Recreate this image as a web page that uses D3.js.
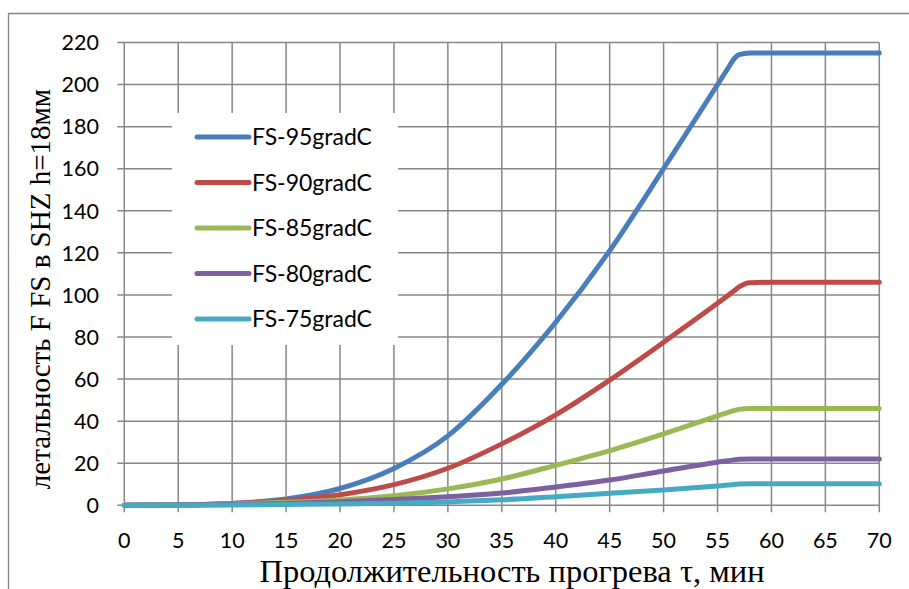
<!DOCTYPE html>
<html>
<head>
<meta charset="utf-8">
<script src="https://cdn.jsdelivr.net/npm/d3@7/dist/d3.min.js"></script>
<style>
  body { margin: 0; background: #fff; }
  svg { display: block; }
</style>
</head>
<body>
<svg id="chart" width="909" height="589"></svg>
<script>
const times = [0, 5, 10, 15, 20, 25, 30, 35, 40, 45, 50, 55, 56, 56.5, 57, 58, 60, 65, 70];
const fs95 = [0, 0.2, 0.9, 3, 8, 17.5, 33, 57.5, 87, 121, 160, 200, 208, 212, 214.2, 215, 215, 215, 215];
const fs90 = [0, 0.2, 0.8, 2.3, 5, 9.8, 17.6, 29.2, 43, 59.5, 77.5, 96, 99.8, 101.8, 103.8, 105.8, 106, 106, 106];
const fs85 = [0, 0.1, 0.6, 1.4, 2.5, 4.5, 7.8, 12.5, 19, 26, 34, 42.5, 44.2, 45, 45.6, 46, 46, 46, 46];
const fs80 = [0, 0.1, 0.4, 0.9, 1.7, 2.8, 4.1, 5.8, 8.7, 12, 16.3, 20.5, 21.2, 21.6, 21.9, 22, 22, 22, 22];
const fs75 = [0, 0.05, 0.2, 0.4, 0.6, 1.0, 1.6, 2.6, 4.1, 5.7, 7.3, 9.2, 9.6, 9.9, 10.1, 10.2, 10.2, 10.2, 10.2];
const seriesNames = ["FS-95gradC", "FS-90gradC", "FS-85gradC", "FS-80gradC", "FS-75gradC"];
const seriesValues = [fs95, fs90, fs85, fs80, fs75];
const seriesColors = ["#4a7ebb", "#be4b48", "#98b954", "#7d60a0", "#46aac5"];
const xTicks = [0, 5, 10, 15, 20, 25, 30, 35, 40, 45, 50, 55, 60, 65, 70];
const yTicks = [0, 20, 40, 60, 80, 100, 120, 140, 160, 180, 200, 220];
const xTitle = "Продолжительность прогрева τ, мин";
const yTitle = "летальность F FS в SHZ h=18мм";

const svg = d3.select("#chart");
const x = d3.scaleLinear().domain([0, 70]).range([124.3, 879.3]);
const y = d3.scaleLinear().domain([0, 220]).range([505.3, 42.5]);
const grid = "#878787";

// outer border
svg.append("path").attr("d", "M8.5,589 L8.5,13.5 L909,13.5")
  .attr("fill", "none").attr("stroke", grid).attr("stroke-width", 1.3);

// grid lines
const g = svg.append("g");
g.selectAll(".hg").data(yTicks).join("line")
  .attr("x1", x(0) - 7).attr("x2", x(70))
  .attr("y1", d => y(d)).attr("y2", d => y(d))
  .attr("stroke", grid).attr("stroke-width", 1.5);
g.selectAll(".vg").data(xTicks).join("line")
  .attr("x1", d => x(d)).attr("x2", d => x(d))
  .attr("y1", y(220)).attr("y2", y(0) + 7)
  .attr("stroke", grid).attr("stroke-width", 1.5);

// tick labels
svg.selectAll(".yl").data(yTicks).join("text")
  .attr("x", 99).attr("y", d => y(d)).attr("dy", "0.36em")
  .attr("text-anchor", "end")
  .style("font-family", "Lato, 'Open Sans', sans-serif").style("font-size", "21.5px")
  .attr("fill", "#000").text(d => d);
svg.selectAll(".xl").data(xTicks).join("text")
  .attr("x", d => x(d)).attr("y", 548)
  .attr("text-anchor", "middle")
  .style("font-family", "Lato, 'Open Sans', sans-serif").style("font-size", "21.5px")
  .attr("fill", "#000").text(d => d);

// legend background
svg.append("rect").attr("x", 172).attr("y", 113).attr("width", 226).attr("height", 232)
  .attr("fill", "#fff");

// lines
const line = d3.line().x((d, i) => x(times[i])).y(d => y(d)).curve(d3.curveMonotoneX);
seriesValues.forEach((vals, k) => {
  svg.append("path").datum(vals).attr("d", line)
    .attr("fill", "none").attr("stroke", seriesColors[k])
    .attr("stroke-width", 5).attr("stroke-linecap", "round").attr("stroke-linejoin", "round");
});

// legend
const legY = [137, 182.5, 228, 273.5, 319];
seriesNames.forEach((name, k) => {
  svg.append("line").attr("x1", 197).attr("x2", 249)
    .attr("y1", legY[k]).attr("y2", legY[k])
    .attr("stroke", seriesColors[k]).attr("stroke-width", 5).attr("stroke-linecap", "round");
  svg.append("text").attr("x", 252).attr("y", legY[k]).attr("dy", "0.36em")
    .style("font-family", "Lato, 'Open Sans', sans-serif").style("font-size", "23px")
    .attr("fill", "#000").text(name);
});

// axis titles
svg.append("text").attr("x", 512).attr("y", 582).attr("text-anchor", "middle")
  .style("font-family", "'Liberation Serif', 'Times New Roman', serif").style("font-size", "32.5px")
  .attr("fill", "#000").text(xTitle);
svg.append("text").attr("transform", "translate(50,289) rotate(-90)").attr("text-anchor", "middle")
  .style("font-family", "'Liberation Serif', 'Times New Roman', serif").style("font-size", "29px")
  .attr("fill", "#000").text(yTitle);
</script>
</body>
</html>
